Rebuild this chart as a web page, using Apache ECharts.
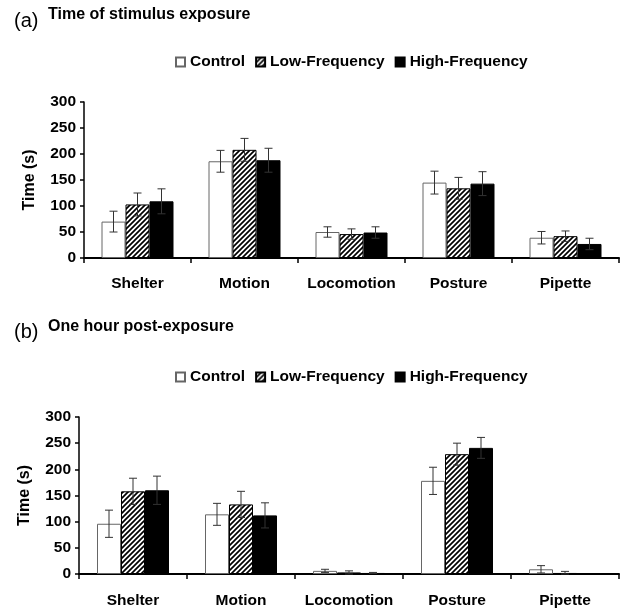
<!DOCTYPE html>
<html>
<head>
<meta charset="utf-8">
<script src="https://cdn.jsdelivr.net/npm/echarts@6/dist/echarts.min.js"></script>
<style>
html,body{margin:0;padding:0;background:#fff;}
#main{width:623px;height:610px;}
</style>
</head>
<body>
<div id="main"></div>
<script>
var categories = ['Shelter', 'Motion', 'Locomotion', 'Posture', 'Pipette'];
var yTicks = [0, 50, 100, 150, 200, 250, 300];
var seriesNames = ['Control', 'Low-Frequency', 'High-Frequency'];

// Panel (a): Time of stimulus exposure
var aControl = [70, 186, 50, 145, 39];
var aControlErr = [20, 21, 10, 22, 12];
var aLow = [103, 208, 46, 134, 42];
var aLowErr = [22, 22, 10, 21, 10];
var aHigh = [109, 188, 49, 143, 27];
var aHighErr = [24, 23, 11, 23, 11];

// Panel (b): One hour post-exposure
var bControl = [96, 114, 6, 178, 9];
var bControlErr = [26, 21, 3, 26, 7];
var bLow = [158, 133, 3, 229, 2];
var bLowErr = [25, 25, 3, 21, 3];
var bHigh = [160, 112, 2, 241, 0.5];
var bHighErr = [27, 24, 1, 20, 0];

var FONT = 'Liberation Sans, Arial, sans-serif';
var BAR_W = 24;

function hatch() {
  var s = 5;
  var c = document.createElement('canvas');
  c.width = s; c.height = s;
  var ctx = c.getContext('2d');
  ctx.fillStyle = '#fff';
  ctx.fillRect(0, 0, s, s);
  ctx.strokeStyle = '#000';
  ctx.lineWidth = 1.7;
  ctx.beginPath();
  ctx.moveTo(-1, s + 1); ctx.lineTo(s + 1, -1);
  ctx.moveTo(-1, 1); ctx.lineTo(1, -1);
  ctx.moveTo(s - 1, s + 1); ctx.lineTo(s + 1, s - 1);
  ctx.stroke();
  return c;
}
var hatchPattern = { image: hatch(), repeat: 'repeat' };

var styles = [
  { color: '#fff', borderColor: '#666', borderWidth: 1 },
  { color: hatchPattern, borderColor: '#000', borderWidth: 1 },
  { color: '#000', borderColor: '#000', borderWidth: 1 }
];

function errData(vals, errs, idx) {
  return vals.map(function (v, i) { return [i, idx, v, errs[i]]; });
}

function errSeries(gridIdx, data) {
  return {
    type: 'custom',
    xAxisIndex: gridIdx, yAxisIndex: gridIdx,
    z: 10,
    silent: true,
    data: data,
    renderItem: function (params, api) {
      var ci = api.value(0), si = api.value(1), v = api.value(2), e = api.value(3);
      if (!e) return null;
      var top = api.coord([ci, v + e]);
      var bot = api.coord([ci, Math.max(v - e, 0)]);
      var x = top[0] + (si - 1) * BAR_W;
      var cap = 4;
      var st = { stroke: '#333', lineWidth: 1 };
      return {
        type: 'group',
        children: [
          { type: 'line', shape: { x1: x, y1: top[1], x2: x, y2: bot[1] }, style: st },
          { type: 'line', shape: { x1: x - cap, y1: top[1], x2: x + cap, y2: top[1] }, style: st },
          { type: 'line', shape: { x1: x - cap, y1: bot[1], x2: x + cap, y2: bot[1] }, style: st }
        ]
      };
    }
  };
}

function xAxis(gridIdx, margin) {
  return {
    type: 'category', gridIndex: gridIdx, data: categories,
    axisLine: { lineStyle: { color: '#000', width: 2 } },
    axisTick: { show: true, length: 5, lineStyle: { color: '#000', width: 1.5 } },
    axisLabel: { interval: 0, margin: margin, color: '#000', fontFamily: FONT, fontWeight: 'bold', fontSize: 15.5 }
  };
}
function yAxis(gridIdx) {
  return {
    type: 'value', gridIndex: gridIdx, min: yTicks[0], max: yTicks[yTicks.length - 1], interval: 50,
    name: 'Time (s)', nameLocation: 'middle', nameGap: 46,
    nameTextStyle: { color: '#000', fontFamily: FONT, fontWeight: 'bold', fontSize: 16 },
    splitLine: { show: false },
    axisLine: { show: true, lineStyle: { color: '#000', width: 1.5 } },
    axisTick: { show: true, length: 4, lineStyle: { color: '#000', width: 1.5 } },
    axisLabel: { margin: 8, color: '#000', fontFamily: FONT, fontWeight: 'bold', fontSize: 15.5 }
  };
}
function bar(gridIdx, nameIdx, data) {
  return {
    type: 'bar', name: seriesNames[nameIdx], xAxisIndex: gridIdx, yAxisIndex: gridIdx,
    data: data, barWidth: BAR_W, barGap: '0%', itemStyle: styles[nameIdx], silent: true,
    animation: false
  };
}
function legend(top) {
  return {
    data: seriesNames.map(function (n) { return { name: n, icon: 'rect' }; }),
    left: 175, top: top, itemWidth: 9, itemHeight: 9, itemGap: 10, padding: 0,
    selectedMode: false,
    textStyle: { color: '#000', fontFamily: FONT, fontWeight: 'bold', fontSize: 15.5 }
  };
}
function ttl(text, left, top, size, weight) {
  return { text: text, left: left, top: top, padding: 0,
    textStyle: { color: '#000', fontFamily: FONT, fontSize: size, fontWeight: weight } };
}

var chart = echarts.init(document.getElementById('main'));
chart.setOption({
  animation: false,
  backgroundColor: '#fff',
  title: [
    ttl('(a)', 14, 11, 20, 'normal'),
    ttl('Time of stimulus exposure', 48, 7, 16, 'bold'),
    ttl('(b)', 14, 322, 20, 'normal'),
    ttl('One hour post-exposure', 48, 319, 16, 'bold')
  ],
  legend: [legend(54), legend(369)],
  grid: [
    { left: 84, right: 4, top: 102, height: 156 },
    { left: 79, right: 4, top: 417, height: 157 }
  ],
  xAxis: [xAxis(0, 18), xAxis(1, 19)],
  yAxis: [yAxis(0), yAxis(1)],
  series: [
    bar(0, 0, aControl), bar(0, 1, aLow), bar(0, 2, aHigh),
    bar(1, 0, bControl), bar(1, 1, bLow), bar(1, 2, bHigh),
    errSeries(0, errData(aControl, aControlErr, 0).concat(errData(aLow, aLowErr, 1), errData(aHigh, aHighErr, 2))),
    errSeries(1, errData(bControl, bControlErr, 0).concat(errData(bLow, bLowErr, 1), errData(bHigh, bHighErr, 2)))
  ]
});
</script>
</body>
</html>
